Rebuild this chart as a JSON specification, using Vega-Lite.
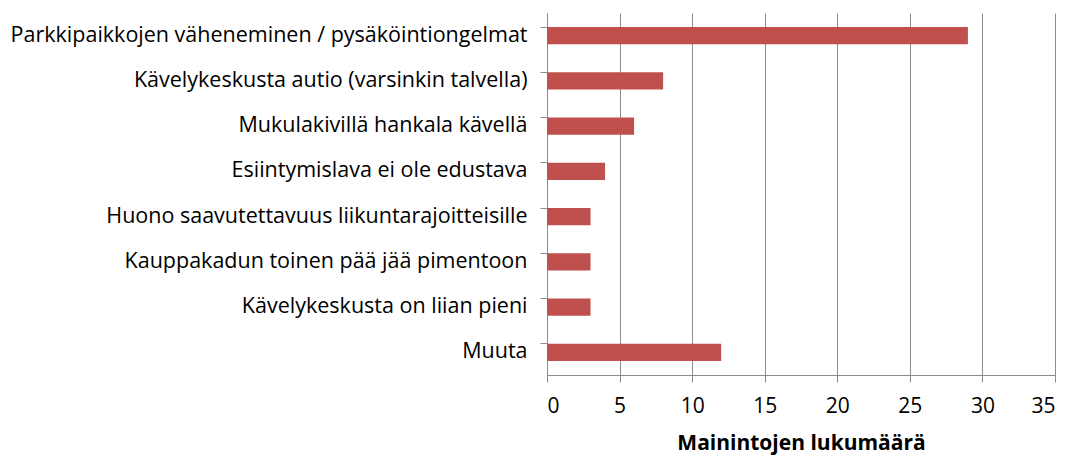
{
  "$schema": "https://vega.github.io/schema/vega-lite/v6.json",
  "width": 508,
  "height": 362,
  "padding": {"left": 10, "top": 13, "right": 10, "bottom": 5},
  "background": "white",
  "config": {"view": {"stroke": null}, "font": "Open Sans"},
  "data": {"values": [
    {"kategoria": "Parkkipaikkojen väheneminen / pysäköintiongelmat", "maara": 29, "jarj": 1},
    {"kategoria": "Kävelykeskusta autio (varsinkin talvella)", "maara": 8, "jarj": 2},
    {"kategoria": "Mukulakivillä hankala kävellä", "maara": 6, "jarj": 3},
    {"kategoria": "Esiintymislava ei ole edustava", "maara": 4, "jarj": 4},
    {"kategoria": "Huono saavutettavuus liikuntarajoitteisille", "maara": 3, "jarj": 5},
    {"kategoria": "Kauppakadun toinen pää jää pimentoon", "maara": 3, "jarj": 6},
    {"kategoria": "Kävelykeskusta on liian pieni", "maara": 3, "jarj": 7},
    {"kategoria": "Muuta", "maara": 12, "jarj": 8}
  ]},
  "mark": {"type": "bar", "color": "#C0504D"},
  "encoding": {
    "y": {
      "field": "kategoria", "type": "nominal",
      "sort": {"field": "jarj", "order": "ascending"},
      "scale": {"paddingInner": 0.62, "paddingOuter": 0.31},
      "axis": {
        "title": null, "labelFontSize": 21.5, "labelColor": "#000000", "labelFont": "Open Sans",
        "labelPadding": 13, "tickSize": 7, "tickColor": "#8c8c8c", "domainColor": "#8c8c8c",
        "bandPosition": 0, "labelLimit": 600, "ticks": true
      }
    },
    "x": {
      "field": "maara", "type": "quantitative",
      "scale": {"domain": [0, 35]},
      "axis": {
        "title": "Mainintojen lukumäärä", "titleFontSize": 21, "titleFontWeight": "bold",
        "titleColor": "#000000", "titleFont": "Open Sans", "titlePadding": 16,
        "values": [0, 5, 10, 15, 20, 25, 30, 35],
        "labelFontSize": 21, "labelColor": "#000000", "labelFont": "Open Sans", "labelPadding": 13,
        "tickSize": 7, "tickColor": "#8c8c8c", "domainColor": "#8c8c8c",
        "grid": true, "gridColor": "#8c8c8c", "gridWidth": 1
      }
    }
  }
}
